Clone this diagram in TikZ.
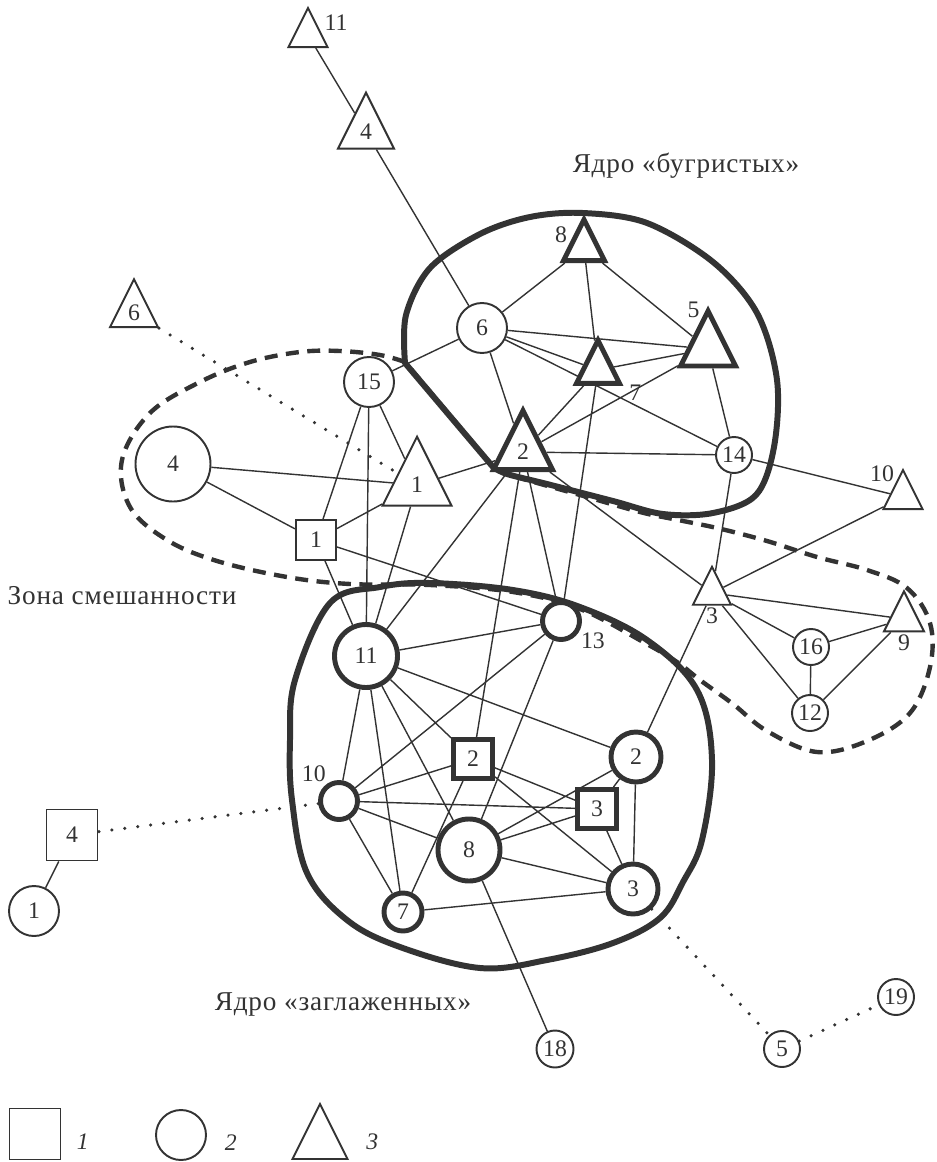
\documentclass[tikz,border=0pt]{standalone}
\usepackage{fontspec}
\setmainfont{Liberation Serif}
\newfontfamily\capfont[LetterSpace=3]{Liberation Serif}
\usetikzlibrary{shapes.geometric,backgrounds}
\definecolor{ink}{HTML}{333333}

\begin{document}
\begin{tikzpicture}[
    % Стили вершин и связей
    num/.style={font=\fontsize{13.5}{15}\selectfont, text=ink, inner sep=0pt},
    vert/.style={num, draw=ink, fill=white, line width=1.1pt},
    strong/.style={line width=2.8pt},
    circ/.style={vert, circle, minimum size=#1},
    sq/.style={vert, rectangle, minimum size=#1},
    tri/.style={vert, isosceles triangle, isosceles triangle stretches,
        shape border rotate=90, minimum width=#1, minimum height=#1},
    lbl/.style={num, label distance=1pt},
    link/.style={draw=ink, line width=0.8pt},
    weak/.style={draw=ink, line width=2pt, line cap=round, dash pattern=on 0pt off 2.6mm},
    core/.style={draw=ink, line width=3.4pt, line join=round},
    zone/.style={draw=ink, line width=2.5pt, dash pattern=on 2.6mm off 1.7mm},
    caption/.style={font=\capfont\fontsize{15.5}{18}\selectfont, text=ink}
, x=0.2mm, y=-0.2mm]

    \useasboundingbox (0,0) rectangle (937,1162);

    % Треугольники (тип 3)
    \node[tri=7.8mm, label={[lbl, label distance=2pt]15:11}] (t11) at (308,35) {};
    \node[tri=11.2mm] (t4) at (366,132) {4};
    \node[tri=9.6mm] (t6) at (134,313) {6};
    \node[tri=13.8mm] (t1) at (417,485) {1};
    \node[tri=11.8mm, strong] (t2) at (523,452) {2};
    \node[tri=8.2mm, strong, label={[lbl]165:8}] (t8) at (584,248) {};
    \node[tri=11mm, strong, label={[lbl]105:5}] (t5) at (708,349) {};
    \node[tri=8.6mm, strong, label={[lbl, label distance=5pt]-25:7}] (t7) at (598,370) {};
    \node[tri=7.8mm, label={[lbl]120:10}] (t10) at (903,497) {};
    \node[tri=7.6mm, label={[lbl]-90:3}] (t3) at (712,593) {};
    \node[tri=8mm, label={[lbl]-90:9}] (t9) at (904,619) {};

    % Круги (тип 2)
    \node[circ=10mm] (c6) at (482,328) {6};
    \node[circ=10mm] (c15) at (369,382) {15};
    \node[circ=15mm] (c4) at (173,464) {4};
    \node[circ=7.2mm] (c14) at (734,455) {14};
    \node[circ=7.2mm] (c16) at (811,647) {16};
    \node[circ=7.2mm] (c12) at (810,713) {12};
    \node[circ=10mm] (c1) at (34,911) {1};
    \node[circ=7.4mm] (c18) at (555,1049) {18};
    \node[circ=7.2mm] (c5) at (782,1049) {5};
    \node[circ=7.2mm] (c19) at (896,997) {19};
    \node[circ=12.6mm, strong] (c11) at (366,656) {11};
    \node[circ=7.4mm, strong, label={[lbl]-30:13}] (c13) at (561,621) {};
    \node[circ=7.4mm, strong, label={[lbl]125:10}] (c10) at (339,801) {};
    \node[circ=10mm, strong] (c2) at (636,757) {2};
    \node[circ=12.4mm, strong] (c8) at (469,850) {8};
    \node[circ=10mm, strong] (c3) at (633,889) {3};
    \node[circ=7.6mm, strong] (c7) at (403,912) {7};

    % Квадраты (тип 1)
    \node[sq=8mm] (s1) at (316,540) {1};
    \node[sq=10.2mm] (s4) at (72,835) {4};
    \node[sq=7.8mm, strong] (s2) at (473,759) {2};
    \node[sq=7.8mm, strong] (s3) at (597,809) {3};

    % Подписи областей
    \node[caption] (capb) at (686,166) {Ядро «бугристых»};
    \node[caption] (capm) at (122,596) {Зона смешанности};
    \node[caption] (capz) at (343,1004) {Ядро «заглаженных»};

    % Легенда
    \node[sq=10.2mm, label={[lbl, label distance=3mm, yshift=-1.5mm]0:\itshape 1}] (lsq) at (35,1134) {};
    \node[circ=10mm, label={[lbl, label distance=3.5mm, yshift=-1.5mm]0:\itshape 2}] (lci) at (181,1135) {};
    \node[tri=11mm, label={[lbl, label distance=5.2mm]0:\itshape 3}] (ltr) at (320,1142) {};

    \begin{scope}[on background layer]
    % Зона смешанности (пунктир)
    \draw[zone] plot[smooth, tension=0.6] coordinates {(405,362) (380,355) (340,351)
        (300,352) (250,362) (200,382) (150,413) (122,460) (130,507) (167,540) (217,561)
        (287,577) (350,584) (430,585) (513,592) (580,609) (645,643) (677,662) (700,680)
        (733,704) (767,731) (817,752) (867,741) (910,713) (930,667) (930,623) (907,588)
        (867,570) (817,557) (767,541) (717,528) (673,519) (640,512) (580,495) (520,478)
        (495,469)} -- cycle;

    % Ядро «бугристых»
    \draw[core] plot[smooth, tension=0.55] coordinates {(405,363) (406,315) (430,268)
        (480,234) (530,217) (583,213) (647,223) (713,262) (757,313) (777,380) (774,447)
        (756,495) (713,513) (663,514) (613,501) (547,484) (507,474) (493,467)} -- cycle;

    % Ядро «заглаженных»
    \draw[core] plot[smooth cycle, tension=0.6] coordinates {(430,583) (513,590) (580,607)
        (647,640) (697,690) (712,760) (702,840) (683,882) (660,918) (613,943) (547,960)
        (480,968) (400,947) (347,920) (307,873) (292,800) (290,740) (295,680) (330,603)
        (380,587)};

    % Связи
    \draw[link] (t11) -- (t4) (t4) -- (c6) (c6) -- (t8) (c6) -- (t5) (c6) -- (t7)
        (c6) -- (c14) (c6) -- (t2) (c6) -- (c15) (t8) -- (t5) (t8) -- (t7) (t7) -- (t5)
        (t7) -- (t2) (t7) -- (c13) (t2) -- (t5) (t2) -- (c14) (t5) -- (c14)
        (c14) -- (t10) (c14) -- (t3) (t1) -- (t2) (t2) -- (t3) (t2) -- (c11)
        (t2) -- (s2) (t2) -- (c13);
    \draw[link] (c4) -- (t1) (c4) -- (s1) (c15) -- (s1) (c15) -- (c11) (c15) -- (t1)
        (s1) -- (t1) (s1) -- (c11) (s1) -- (c13) (t1) -- (c11);
    \draw[link] (c11) -- (c13) (c11) -- (c10) (c11) -- (c7) (c11) -- (c8) (c11) -- (s2)
        (c11) -- (c2) (c13) -- (c10) (c13) -- (c8) (s2) -- (c10) (s2) -- (c7)
        (s2) -- (s3) (s2) -- (c3) (c10) -- (s3) (c10) -- (c8) (c10) -- (c7)
        (c8) -- (s3) (c8) -- (c2) (c8) -- (c3) (c8) -- (c18) (c2) -- (s3) (c2) -- (c3)
        (s3) -- (c3) (c3) -- (c7) (c2) -- (t3);
    \draw[link] (t3) -- (t10) (t3) -- (t9) (t3) -- (c16) (t3) -- (c12) (c16) -- (t9)
        (c16) -- (c12) (c12) -- (t9) (s4) -- (c1);

    % Слабые связи (точки)
    \draw[weak] (t6) -- (t1) (c10) -- (s4) (c3) -- (c5) (c5) -- (c19);
    \end{scope}
\end{tikzpicture}
\end{document}
